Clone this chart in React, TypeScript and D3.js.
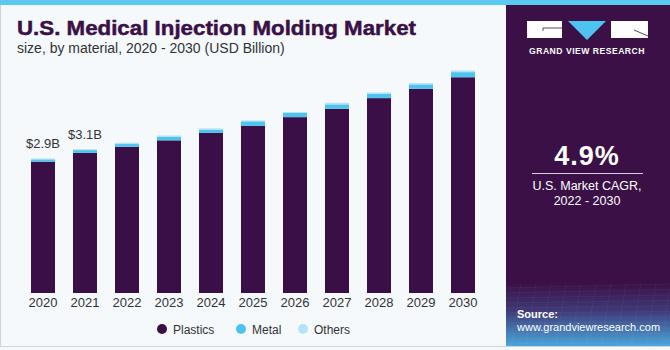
import { useEffect, useRef } from 'react';
import * as d3 from 'd3';

const years = ['2020', '2021', '2022', '2023', '2024', '2025', '2026', '2027', '2028', '2029', '2030'];
const plastics = [2.83, 3.02, 3.15, 3.29, 3.45, 3.6, 3.79, 3.97, 4.2, 4.4, 4.65];
const metal = [0.05, 0.06, 0.06, 0.08, 0.07, 0.1, 0.09, 0.095, 0.093, 0.095, 0.11];
const others = [0.02, 0.02, 0.03, 0.025, 0.03, 0.02, 0.02, 0.035, 0.03, 0.03, 0.035];
const seriesKeys = ['Plastics', 'Metal', 'Others'];
const seriesColors = ['#3a0f47', '#4fc3f0', '#b3e3f7'];
const valueLabels = [
  { year: '2020', text: '$2.9B' },
  { year: '2021', text: '$3.1B' },
];

export default function App() {
  const svgRef = useRef<SVGSVGElement>(null);

  useEffect(() => {
    document.body.style.margin = '0';
    if (!svgRef.current) return;
    const W = 670;
    const H = 350;
    const svg = d3.select(svgRef.current);
    svg.selectAll('*').remove();
    svg.attr('width', W).attr('height', H);
    const font = "'Liberation Sans', Arial, sans-serif";

    // background
    svg.append('rect').attr('width', W).attr('height', H).attr('fill', '#f5f9fc');
    svg.append('rect')
      .attr('x', 0.5).attr('y', 0.5).attr('width', W - 1).attr('height', H - 4)
      .attr('fill', 'none').attr('stroke', '#cfd4d9');
    svg.append('rect').attr('width', W).attr('height', 5).attr('fill', '#5ac8f0');

    // right panel
    const defs = svg.append('defs');
    const grad = defs.append('linearGradient').attr('id', 'srcGrad')
      .attr('x1', 0).attr('y1', 0).attr('x2', 0).attr('y2', 1);
    grad.append('stop').attr('offset', '0%').attr('stop-color', '#3a1046');
    grad.append('stop').attr('offset', '45%').attr('stop-color', '#3f3a78');
    grad.append('stop').attr('offset', '100%').attr('stop-color', '#4aa6dc');

    const px = 506;
    svg.append('rect').attr('x', px).attr('y', 5).attr('width', W - px).attr('height', 278).attr('fill', '#3a1046');
    svg.append('rect').attr('x', px).attr('y', 283).attr('width', W - px).attr('height', 63).attr('fill', 'url(#srcGrad)');
    // faint grid texture
    const tex = svg.append('g').attr('stroke', '#ffffff').attr('stroke-opacity', 0.08).attr('stroke-width', 0.6);
    d3.range(0, 12).forEach((i) => {
      tex.append('line').attr('x1', px).attr('x2', W).attr('y1', 288 + i * 5).attr('y2', 284 + i * 5.5);
      tex.append('line').attr('x1', px + i * 15).attr('x2', px + i * 15 - 10).attr('y1', 283).attr('y2', 346);
    });

    // logo
    const logo = svg.append('g');
    logo.append('rect').attr('x', 527).attr('y', 21).attr('width', 35).attr('height', 17).attr('fill', '#ffffff');
    logo.append('path').attr('d', 'M543,31 L543,28 L562,28').attr('fill', 'none').attr('stroke', '#3a1046').attr('stroke-width', 0.8);
    logo.append('path').attr('d', 'M568,21 L606,21 L587,40 Z').attr('fill', '#4fc3f0');
    logo.append('rect').attr('x', 611).attr('y', 21).attr('width', 37).attr('height', 17).attr('fill', '#ffffff');
    logo.append('path').attr('d', 'M634,30 L648,36').attr('fill', 'none').attr('stroke', '#3a1046').attr('stroke-width', 0.8);
    logo.append('text').attr('x', 587).attr('y', 54).attr('text-anchor', 'middle')
      .attr('font-family', font).attr('font-weight', 700).attr('font-size', 8.6)
      .attr('letter-spacing', 0.5).attr('fill', '#ffffff').text('GRAND VIEW RESEARCH');

    // CAGR
    svg.append('text').attr('x', 587).attr('y', 165).attr('text-anchor', 'middle')
      .attr('font-family', font).attr('font-weight', 700).attr('font-size', 27)
      .attr('letter-spacing', 1).attr('fill', '#ffffff').text('4.9%');
    svg.append('line').attr('x1', 532).attr('x2', 643).attr('y1', 173.5).attr('y2', 173.5)
      .attr('stroke', '#d8d0e0').attr('stroke-width', 1);
    svg.append('text').attr('x', 587).attr('y', 190).attr('text-anchor', 'middle')
      .attr('font-family', font).attr('font-size', 12.5).attr('fill', '#ffffff').text('U.S. Market CAGR,');
    svg.append('text').attr('x', 587).attr('y', 205).attr('text-anchor', 'middle')
      .attr('font-family', font).attr('font-size', 12.5).attr('fill', '#ffffff').text('2022 - 2030');

    // source
    svg.append('text').attr('x', 517).attr('y', 318)
      .attr('font-family', font).attr('font-weight', 700).attr('font-size', 11).attr('fill', '#ffffff').text('Source:');
    svg.append('text').attr('x', 517).attr('y', 331)
      .attr('font-family', font).attr('font-size', 11).attr('fill', '#ffffff').text('www.grandviewresearch.com');

    // title
    svg.append('text').attr('x', 17).attr('y', 35)
      .attr('font-family', font).attr('font-weight', 700).attr('font-size', 21)
      .attr('textLength', 399).attr('lengthAdjust', 'spacingAndGlyphs')
      .attr('stroke', '#3a1046').attr('stroke-width', 0.5)
      .attr('fill', '#3a1046').text('U.S. Medical Injection Molding Market');
    svg.append('text').attr('x', 17).attr('y', 53)
      .attr('font-family', font).attr('font-size', 14)
      .attr('fill', '#333333').text('size, by material, 2020 - 2030 (USD Billion)');

    // chart
    const rows = years.map((y, i) => ({ year: y, Plastics: plastics[i], Metal: metal[i], Others: others[i] }));
    const stacked = d3.stack<any>().keys(seriesKeys)(rows);
    const x = d3.scaleBand().domain(years).range([22, 484]).paddingInner(0.4286).paddingOuter(0.2143);
    const y = d3.scaleLinear().domain([0, 5]).range([293, 61]);

    const g = svg.append('g');
    stacked.forEach((layer, li) => {
      g.append('g').attr('fill', seriesColors[li]).selectAll('rect').data(layer).join('rect')
        .attr('x', (d: any) => x(d.data.year) as number)
        .attr('y', (d) => y(d[1]))
        .attr('width', x.bandwidth())
        .attr('height', (d) => y(d[0]) - y(d[1]));
    });

    const totals = years.map((_, i) => plastics[i] + metal[i] + others[i]);
    valueLabels.forEach((lab) => {
      const i = years.indexOf(lab.year);
      g.append('text')
        .attr('x', (x(lab.year) as number) + x.bandwidth() / 2)
        .attr('y', y(totals[i]) - 10)
        .attr('text-anchor', 'middle')
        .attr('font-family', font).attr('font-size', 13).attr('fill', '#333333')
        .text(lab.text);
    });

    const axis = g.append('g').attr('transform', 'translate(0,293)')
      .call(d3.axisBottom(x).tickSize(0).tickPadding(5));
    axis.select('.domain').remove();
    axis.selectAll('text').attr('font-family', font).attr('font-size', 13).attr('fill', '#333333');

    // legend
    const legendX = [162, 241, 303];
    const legend = svg.append('g');
    seriesKeys.forEach((k, i) => {
      legend.append('circle').attr('cx', legendX[i]).attr('cy', 329).attr('r', 5).attr('fill', seriesColors[i]);
      legend.append('text').attr('x', legendX[i] + 11).attr('y', 333.5)
        .attr('font-family', font).attr('font-size', 12).attr('fill', '#333333').text(k);
    });
  }, []);

  return <svg ref={svgRef} />;
}
